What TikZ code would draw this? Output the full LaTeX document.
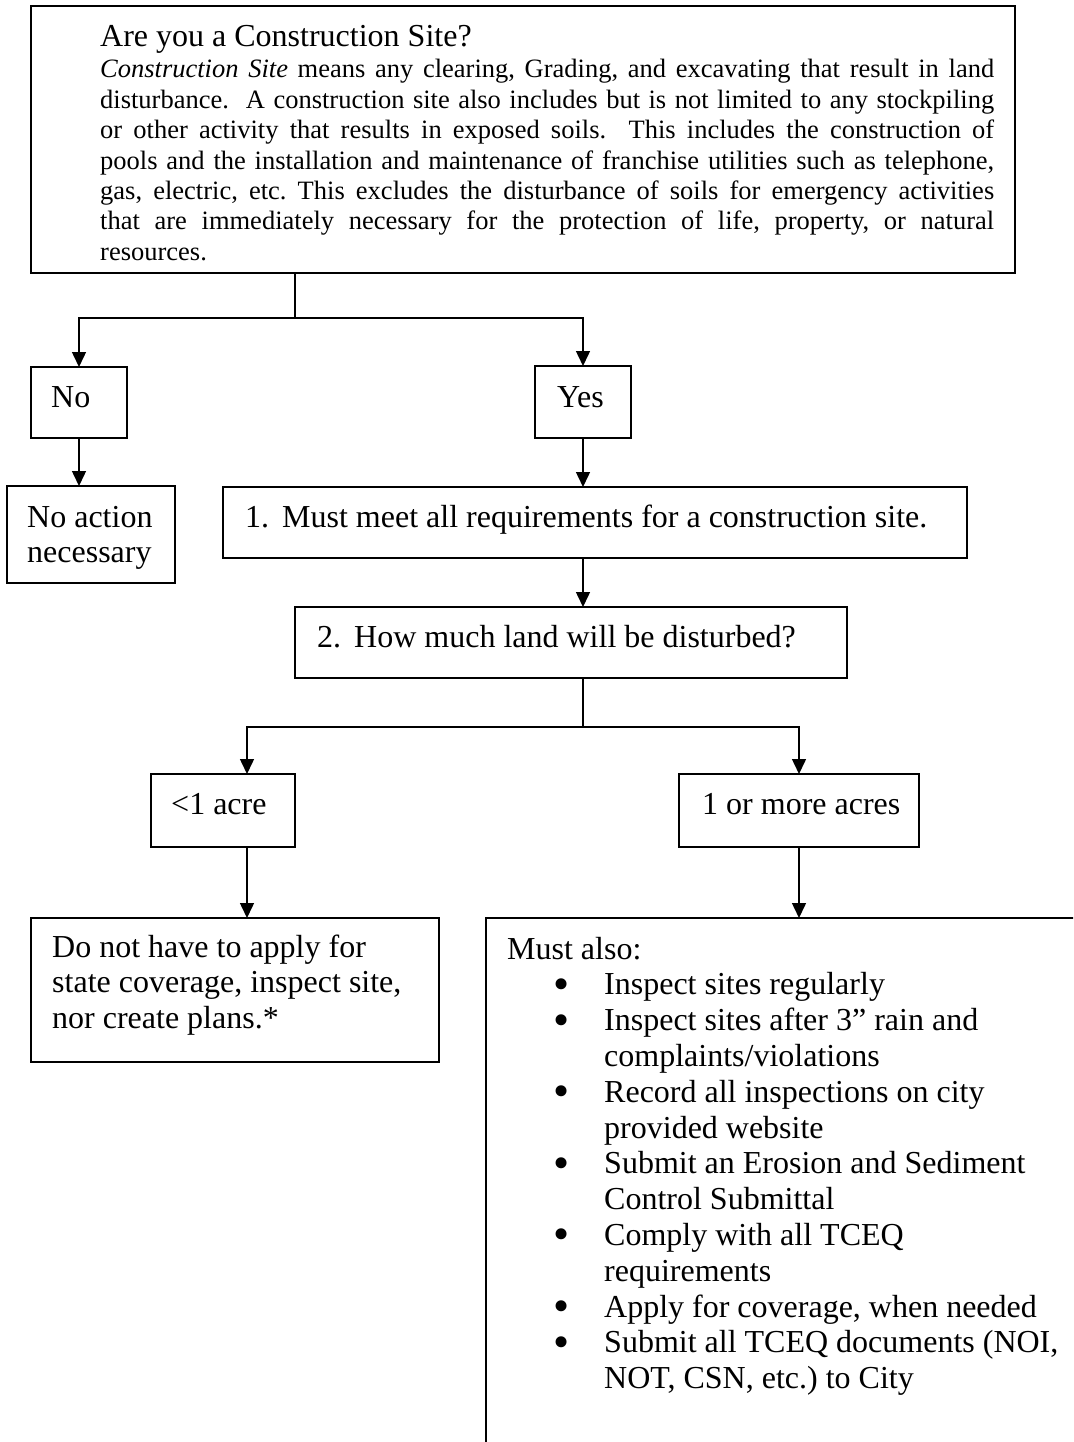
\documentclass[tikz,border=0pt]{standalone}
\usepackage{fontspec}
\setmainfont{Liberation Serif}
\usetikzlibrary{arrows.meta}
\newcommand{\mybul}{\hspace*{46pt}\makebox[51pt][l]{\smash{\raisebox{-4.5pt}{\fontsize{46}{46}\selectfont•}}}}
\newcommand{\mycont}{\hspace*{97pt}}
\newcommand{\mylines}[1]{\begin{tabular}[t]{@{}l@{}}#1\end{tabular}}
\begin{document}
\frenchspacing
\begin{tikzpicture}[x=1pt,y=-1pt,
  box/.style={draw=black, line width=1.8pt, inner sep=0pt, outer sep=0pt, anchor=north west},
  conn/.style={line width=1.5pt},
  arr/.style={line width=1.5pt, -{Triangle[width=14pt,length=15pt]}},
  txt/.style={anchor=base west, inner sep=0pt, font=\fontsize{32}{35.7}\selectfont},
  bodytxt/.style={anchor=base west, inner sep=0pt, text width=894pt, align=justify, font=\fontsize{26.5}{30.4}\selectfont}
]
\useasboundingbox (0,0) rectangle (1073,1442);
\clip (0,0) rectangle (1073,1442);

% boxes
\node[box, minimum width=984pt, minimum height=267pt] (top) at (31,6) {};
\node[box, minimum width=96pt, minimum height=71pt] (no) at (31,367) {};
\node[box, minimum width=96pt, minimum height=72pt] (yes) at (535,366) {};
\node[box, minimum width=168pt, minimum height=97pt] (noact) at (7,486) {};
\node[box, minimum width=744pt, minimum height=71pt] (b1) at (223,487) {};
\node[box, minimum width=552pt, minimum height=71pt] (b2) at (295,607) {};
\node[box, minimum width=144pt, minimum height=73pt] (lt1) at (151,774) {};
\node[box, minimum width=240pt, minimum height=73pt] (ge1) at (679,774) {};
\node[box, minimum width=408pt, minimum height=144pt] (donot) at (31,918) {};
\node[box, minimum width=700pt, minimum height=600pt] (must) at (486,918) {};

% texts
\node[txt] (title) at (100,47) {Are you a Construction Site?};
\node[bodytxt] (body) at (100,78) {\textit{Construction Site} means any clearing, Grading, and excavating that result in land\linebreak
disturbance.\ \ A construction site also includes but is not limited to any stockpiling\linebreak
or other activity that results in exposed soils.\ \ This includes the construction of\linebreak
pools and the installation and maintenance of franchise utilities such as telephone,\linebreak
gas, electric, etc. This excludes the disturbance of soils for emergency activities\linebreak
that are immediately necessary for the protection of life, property, or natural\linebreak
resources.};
\node[txt] (no-t) at (51,407) {No};
\node[txt] (yes-t) at (557,407) {Yes};
\node[txt] (noact-t) at (27,527) {\mylines{No action\\necessary}};
\node[txt] (b1-t) at (245,527) {1.\hspace{13pt}Must meet all requirements for a construction site.};
\node[txt] (b2-t) at (317,647) {2.\hspace{13pt}How much land will be disturbed?};
\node[txt] (lt1-t) at (171,814) {<1 acre};
\node[txt] (ge1-t) at (702,814) {1 or more acres};
\node[txt] (donot-t) at (52,957) {\mylines{Do not have to apply for\\state coverage, inspect site,\\nor create plans.*}};
\node[txt, font=\fontsize{32}{35.8}\selectfont] (must-t) at (507,959) {\mylines{Must also:\\
\mybul Inspect sites regularly\\
\mybul Inspect sites after 3” rain and\\
\mycont complaints/violations\\
\mybul Record all inspections on city\\
\mycont provided website\\
\mybul Submit an Erosion and Sediment\\
\mycont Control Submittal\\
\mybul Comply with all TCEQ\\
\mycont requirements\\
\mybul Apply for coverage, when needed\\
\mybul Submit all TCEQ documents (NOI,\\
\mycont NOT, CSN, etc.) to City}};

% connectors
\coordinate (j1) at (295,318);
\coordinate (j2) at (583,727);
\coordinate (a3) at (247,727);
\draw[conn] (j1 |- top.south) -- (j1);
\draw[arr] (j1) -| (no.north);
\draw[arr] (j1) -| (yes.north);
\draw[arr] (no.south) -- (no.south |- noact.north);
\draw[arr] (yes.south) -- (yes.south |- b1.north);
\draw[arr] (yes.south |- b1.south) -- (yes.south |- b2.north);
\draw[conn] (j2 |- b2.south) -- (j2);
\draw[arr] (j2) -| (a3 |- lt1.north);
\draw[arr] (j2) -| (ge1.north);
\draw[arr] (a3 |- lt1.south) -- (a3 |- donot.north);
\draw[arr] (ge1.south) -- (ge1.south |- must.north);
\end{tikzpicture}
\end{document}
